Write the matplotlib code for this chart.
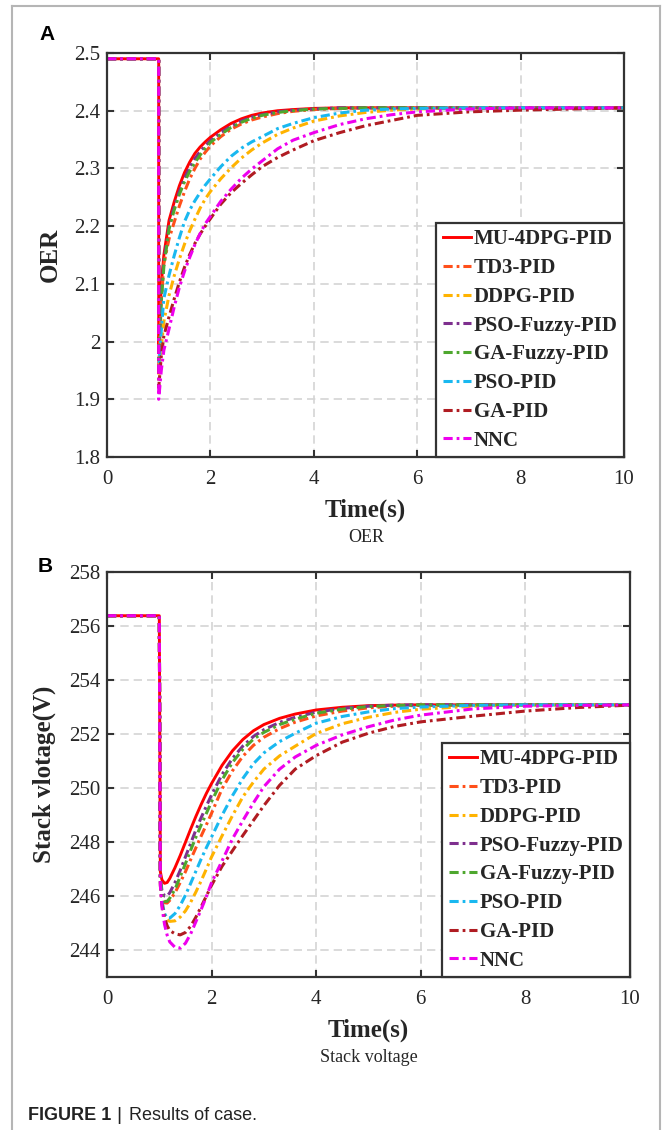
import matplotlib
matplotlib.use("Agg")
import matplotlib.pyplot as plt
from matplotlib.lines import Line2D
from matplotlib.ticker import FuncFormatter

# controller names and their line colours
methods = ["MU-4DPG-PID", "TD3-PID", "DDPG-PID", "PSO-Fuzzy-PID",
           "GA-Fuzzy-PID", "PSO-PID", "GA-PID", "NNC"]
colors = ["#ff0000", "#ff4f1a", "#ffb300", "#7e2f8e",
          "#4ea72e", "#19b8f0", "#b01c22", "#ee00ee"]

# ---- panel A: oxygen excess ratio ----
t_oer = [0, 1.0, 1.0, 1.05, 1.1, 1.2, 1.3, 1.4, 1.5, 1.6, 1.7, 1.8, 1.9, 2.0,
         2.2, 2.4, 2.6, 2.8, 3.0, 3.3, 3.6, 4.0, 4.5, 5.0, 5.5, 6.0, 7.0,
         8.0, 9.0, 10.0]
oer_mu = [2.49, 2.49, 1.98, 2.10, 2.15, 2.21, 2.242, 2.27, 2.293, 2.311, 2.326,
          2.337, 2.346, 2.354, 2.367, 2.378, 2.386, 2.392, 2.396, 2.400, 2.402,
          2.404, 2.405, 2.405, 2.405, 2.405, 2.405, 2.405, 2.405, 2.405]
oer_td3 = [2.49, 2.49, 1.96, 2.07, 2.135, 2.178, 2.207, 2.235, 2.26, 2.282,
           2.300, 2.316, 2.328, 2.339, 2.355, 2.368, 2.377, 2.384, 2.389,
           2.395, 2.399, 2.402, 2.404, 2.405, 2.405, 2.405, 2.405, 2.405,
           2.405, 2.405]
oer_ddpg = [2.49, 2.49, 1.94, 1.99, 2.035, 2.08, 2.114, 2.143, 2.169, 2.192,
            2.212, 2.231, 2.247, 2.260, 2.282, 2.301, 2.318, 2.332, 2.344,
            2.359, 2.370, 2.382, 2.391, 2.397, 2.401, 2.403, 2.405, 2.405,
            2.405, 2.405]
oer_psofz = [2.49, 2.49, 1.97, 2.08, 2.14, 2.20, 2.234, 2.26, 2.283, 2.302,
             2.317, 2.329, 2.339, 2.348, 2.362, 2.373, 2.382, 2.389, 2.393,
             2.398, 2.401, 2.403, 2.405, 2.405, 2.405, 2.405, 2.405, 2.405,
             2.405, 2.405]
oer_gafz = [2.49, 2.49, 1.97, 2.07, 2.13, 2.195, 2.228, 2.255, 2.277, 2.295,
            2.31, 2.323, 2.335, 2.345, 2.359, 2.371, 2.380, 2.387, 2.392,
            2.397, 2.400, 2.403, 2.404, 2.405, 2.405, 2.405, 2.405, 2.405,
            2.405, 2.405]
oer_pso = [2.49, 2.49, 1.95, 2.02, 2.075, 2.115, 2.149, 2.180, 2.208, 2.228,
           2.244, 2.258, 2.271, 2.282, 2.303, 2.321, 2.335, 2.346, 2.355,
           2.369, 2.378, 2.388, 2.396, 2.401, 2.403, 2.404, 2.405, 2.405,
           2.405, 2.405]
oer_ga = [2.49, 2.49, 1.92, 1.975, 2.01, 2.043, 2.074, 2.103, 2.129, 2.151,
          2.170, 2.186, 2.200, 2.213, 2.238, 2.258, 2.274, 2.289, 2.303,
          2.319, 2.332, 2.348, 2.362, 2.374, 2.383, 2.392, 2.398, 2.401,
          2.403, 2.405]
oer_nnc = [2.49, 2.49, 1.90, 1.95, 1.985, 2.022, 2.06, 2.094, 2.122, 2.146,
           2.168, 2.187, 2.204, 2.217, 2.243, 2.264, 2.283, 2.299, 2.313,
           2.334, 2.349, 2.362, 2.376, 2.386, 2.393, 2.398, 2.403, 2.405,
           2.405, 2.405]

# ---- panel B: stack voltage (V) ----
t_volt = [0, 1.0, 1.02, 1.05, 1.1, 1.15, 1.2, 1.3, 1.4, 1.5, 1.6, 1.7, 1.8,
          1.9, 2.0, 2.2, 2.4, 2.6, 2.8, 3.0, 3.3, 3.6, 4.0, 4.5, 5.0, 5.5,
          6.0, 7.0, 8.0, 9.0, 10.0]
v_mu = [256.38, 256.38, 246.9, 246.6, 246.47, 246.5, 246.65, 247.05, 247.5,
        247.99, 248.48, 248.95, 249.39, 249.8, 250.17, 250.84, 251.38, 251.8,
        252.12, 252.35, 252.58, 252.74, 252.89, 252.99, 253.05, 253.07,
        253.08, 253.08, 253.08, 253.08, 253.08]
v_td3 = [256.38, 256.38, 246.6, 246.0, 245.75, 245.74, 245.84, 246.12, 246.5,
         246.9, 247.35, 247.79, 248.22, 248.64, 249.07, 249.97, 250.64,
         251.18, 251.58, 251.88, 252.2, 252.44, 252.67, 252.85, 252.97,
         253.03, 253.06, 253.08, 253.08, 253.08, 253.08]
v_ddpg = [256.38, 256.38, 246.5, 245.8, 245.3, 245.12, 245.06, 245.08, 245.22,
          245.45, 245.77, 246.15, 246.56, 247.0, 247.45, 248.23, 248.98,
          249.68, 250.22, 250.7, 251.19, 251.55, 252.02, 252.38, 252.62,
          252.8, 252.92, 253.03, 253.07, 253.08, 253.08]
v_psofz = [256.38, 256.38, 246.7, 246.2, 246.0, 246.0, 246.12, 246.5, 246.95,
           247.45, 247.95, 248.45, 248.9, 249.33, 249.75, 250.5, 251.1,
           251.56, 251.91, 252.16, 252.43, 252.62, 252.81, 252.95, 253.03,
           253.07, 253.08, 253.08, 253.08, 253.08, 253.08]
v_gafz = [256.38, 256.38, 246.6, 246.05, 245.8, 245.8, 245.92, 246.25, 246.72,
          247.2, 247.7, 248.18, 248.63, 249.06, 249.5, 250.3, 250.95, 251.44,
          251.81, 252.06, 252.35, 252.55, 252.77, 252.92, 253.02, 253.06,
          253.08, 253.08, 253.08, 253.08, 253.08]
v_pso = [256.38, 256.38, 246.5, 245.8, 245.35, 245.18, 245.18, 245.35, 245.65,
         246.03, 246.47, 246.92, 247.37, 247.79, 248.19, 248.99, 249.72,
         250.36, 250.9, 251.3, 251.72, 252.03, 252.4, 252.65, 252.82, 252.94,
         253.0, 253.06, 253.08, 253.08, 253.08]
v_ga = [256.38, 256.38, 246.4, 245.7, 245.2, 244.9, 244.72, 244.6, 244.56,
        244.65, 244.88, 245.22, 245.6, 246.0, 246.4, 247.1, 247.68, 248.25,
        248.8, 249.35, 250.1, 250.7, 251.2, 251.7, 252.03, 252.28, 252.45,
        252.66, 252.85, 252.98, 253.07]
v_nnc = [256.38, 256.38, 246.4, 245.6, 244.95, 244.55, 244.3, 244.1, 244.07,
         244.25, 244.6, 245.05, 245.5, 245.98, 246.5, 247.3, 248.12, 248.8,
         249.45, 250.05, 250.7, 251.15, 251.58, 251.97, 252.27, 252.52,
         252.7, 252.93, 253.03, 253.06, 253.08]

oer_series = [oer_mu, oer_td3, oer_ddpg, oer_psofz, oer_gafz, oer_pso,
              oer_ga, oer_nnc]
volt_series = [v_mu, v_td3, v_ddpg, v_psofz, v_gafz, v_pso, v_ga, v_nnc]

SERIF = "Liberation Serif"
SANS = "Liberation Sans"
DARK = "#262626"
W, H = 664, 1130
DASHDOT = (0, (3, 1.3, 0.9, 1.3))


def style_axes(ax, ylabel, yticks, ylim, label_x):
    """Common MATLAB-like look for both panels."""
    ax.set_xlim(0, 10)
    ax.set_ylim(*ylim)
    ax.set_xticks(range(0, 11, 2))
    ax.set_yticks(yticks)
    ax.yaxis.set_major_formatter(FuncFormatter(lambda v, p: f"{round(v, 2):g}"))
    ax.grid(True, color="#d4d4d4", linestyle=(0, (5, 3)), linewidth=1.2)
    ax.set_axisbelow(True)
    for sp in ax.spines.values():
        sp.set_linewidth(1.6)
        sp.set_color("#333333")
    ax.tick_params(direction="in", top=True, right=True, length=5, width=1.5,
                   color="#333333", labelcolor=DARK, labelsize=15)
    ax.tick_params(axis="x", pad=9)
    ax.tick_params(axis="y", pad=5)
    for lab in ax.get_xticklabels() + ax.get_yticklabels():
        lab.set_family(SERIF)
    ax.set_ylabel(ylabel, family=SERIF, fontsize=18, fontweight="bold",
                  color=DARK)
    ax.yaxis.label.set_va("center")
    ax.yaxis.set_label_coords(label_x, 0.5)
    ax.set_xlabel("Time(s)", family=SERIF, fontsize=18, fontweight="bold",
                  color=DARK)
    ax.xaxis.label.set_va("center")


def draw_panel(ax, t, series):
    for name, col, y in zip(methods, colors, series):
        if name == "MU-4DPG-PID":
            ax.plot(t, y, color=col, linestyle="-", linewidth=2.1, label=name)
        else:
            ax.plot(t, y, color=col, linestyle=DASHDOT, linewidth=2.2,
                    label=name)
    leg = ax.legend(loc="lower right", bbox_to_anchor=(1, 0), borderaxespad=0,
                    prop={"family": SERIF, "weight": "bold", "size": 15},
                    handlelength=1.35, handletextpad=0.15, labelspacing=0.42,
                    borderpad=0.3, fancybox=False, framealpha=1)
    leg.get_frame().set_edgecolor("#333333")
    leg.get_frame().set_linewidth(1.6)
    for txt in leg.get_texts():
        txt.set_color(DARK)


fig = plt.figure(figsize=(W / 100, H / 100), dpi=100)

# panel A
ax1 = fig.add_axes([107 / W, 1 - 457 / H, (624 - 107) / W, (457 - 53) / H])
draw_panel(ax1, t_oer, oer_series)
style_axes(ax1, "OER", [1.8, 1.9, 2.0, 2.1, 2.2, 2.3, 2.4, 2.5], (1.8, 2.5),
           (50 - 107) / (624 - 107))
ax1.xaxis.set_label_coords(0.5, -(510 - 457) / (457 - 53))

# panel B
ax2 = fig.add_axes([107 / W, 1 - 977 / H, (630 - 107) / W, (977 - 572) / H])
draw_panel(ax2, t_volt, volt_series)
style_axes(ax2, "Stack vlotage(V)", list(range(244, 259, 2)), (243, 258),
           (44 - 107) / (630 - 107))
ax2.xaxis.set_label_coords(0.5, -(1030 - 977) / (977 - 572))

# sub captions and panel letters
fig.text(366 / W, 1 - 538 / H, "OER", family=SERIF, fontsize=13,
         ha="center", va="center", color=DARK)
fig.text(369 / W, 1 - 1057 / H, "Stack voltage", family=SERIF, fontsize=13,
         ha="center", va="center", color=DARK)
fig.text(47 / W, 1 - 34 / H, "A", family=SANS, fontsize=15, fontweight="bold",
         ha="center", va="center")
fig.text(45 / W, 1 - 567 / H, "B", family=SANS, fontsize=15, fontweight="bold",
         ha="center", va="center")

# figure caption
fig.text(28 / W, 1 - 1115 / H, "FIGURE 1", family=SANS, fontsize=13,
         fontweight="bold", va="center", color="#222222")
fig.text(116 / W, 1 - 1115 / H, "|", family=SANS, fontsize=14,
         va="center", color="#222222")
fig.text(129 / W, 1 - 1115 / H, "Results of case.", family=SANS, fontsize=13,
         va="center", color="#222222")

# thin grey frame round the figure (open at the bottom)
frame_kw = dict(color="#b5b5b5", linewidth=1.5, transform=fig.transFigure)
fig.add_artist(Line2D([12 / W, 12 / W], [0, 1 - 6 / H], **frame_kw))
fig.add_artist(Line2D([12 / W, 660 / W], [1 - 6 / H, 1 - 6 / H], **frame_kw))
fig.add_artist(Line2D([660 / W, 660 / W], [0, 1 - 6 / H], **frame_kw))

fig.savefig("out.png", dpi=100)
